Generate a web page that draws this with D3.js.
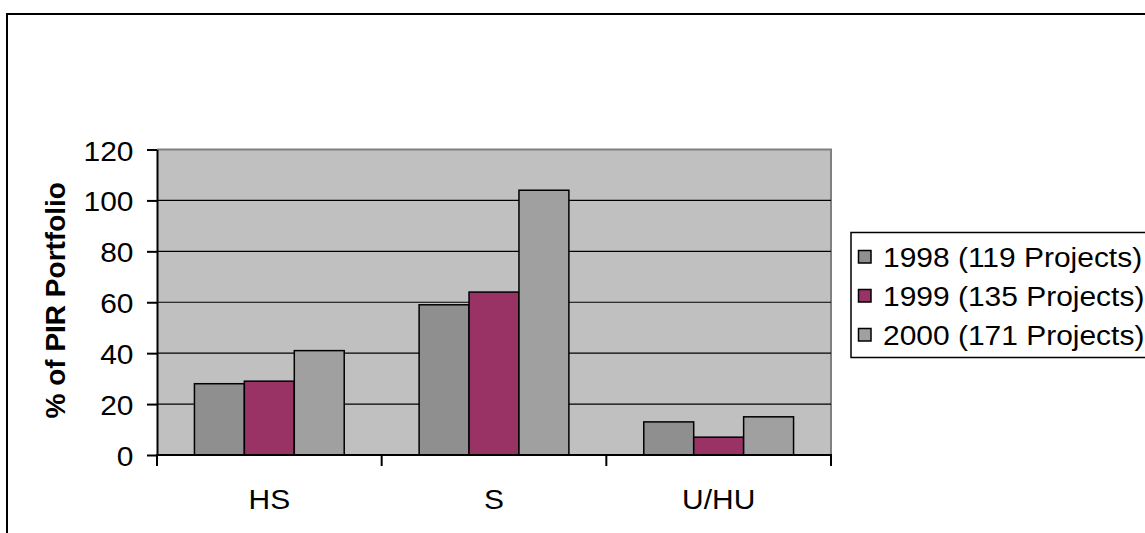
<!DOCTYPE html>
<html>
<head>
<meta charset="utf-8">
<script src="https://cdn.jsdelivr.net/npm/d3@7"></script>
<style>
  html, body { margin: 0; padding: 0; background: #fff; overflow: hidden; }
  svg { display: block; }
  text { font-family: "Liberation Sans", Arial, sans-serif; fill: #000; }
</style>
</head>
<body>
<svg id="chart" width="1145" height="533"></svg>
<script>
// Project ratings by year, share of the PIR portfolio
const categories = ["HS", "S", "U/HU"];
const seriesNames = ["1998 (119 Projects)", "1999 (135 Projects)", "2000 (171 Projects)"];
const values1998 = [28, 59, 13];
const values1999 = [29, 64, 7];
const values2000 = [41, 104, 15];
const yTicks = [0, 20, 40, 60, 80, 100, 120];
const seriesColors = ["#8f8f8f", "#993366", "#a0a0a0"];

const seriesValues = [values1998, values1999, values2000];
const rows = categories.map((c, i) => ({
  category: c,
  bars: seriesNames.map((s, j) => ({ series: s, idx: j, value: seriesValues[j][i] }))
}));

const svg = d3.select("#chart");
const FONT = 28;      // label size
const STRETCH = 1.07; // horizontal glyph widening of the original rendering

// plot area
const plot = { left: 157, right: 831, top: 149.5, bottom: 455 };

const x = d3.scaleBand().domain(categories).range([plot.left, plot.right]).paddingInner(0).paddingOuter(0);
const xs = d3.scaleBand().domain(d3.range(seriesNames.length)).range([0, x.bandwidth()])
  .paddingInner(0).paddingOuter(0.75);
const y = d3.scaleLinear().domain([0, 120]).range([plot.bottom, plot.top]);

// chart frame (runs past the page edge on the right and bottom)
svg.append("rect")
  .attr("x", 7).attr("y", 14).attr("width", 1300).attr("height", 700)
  .attr("fill", "#fff").attr("stroke", "#000").attr("stroke-width", 2);

// plot background
svg.append("rect")
  .attr("x", plot.left).attr("y", plot.top)
  .attr("width", plot.right - plot.left).attr("height", plot.bottom - plot.top)
  .attr("fill", "#c0c0c0");

// grey top and right edges of the plot
svg.append("path")
  .attr("d", `M${plot.left},${y(120)}H${plot.right}V${plot.bottom}`)
  .attr("fill", "none").attr("stroke", "#808080").attr("stroke-width", 2);

// gridlines
svg.append("g").selectAll("line")
  .data(yTicks.filter(t => t > 0 && t < 120))
  .join("line")
  .attr("x1", plot.left).attr("x2", plot.right)
  .attr("y1", d => y(d)).attr("y2", d => y(d))
  .attr("stroke", "#000").attr("stroke-width", 1.2);

// bars
svg.append("g").selectAll("g")
  .data(rows)
  .join("g")
  .attr("transform", d => `translate(${x(d.category)},0)`)
  .selectAll("rect")
  .data(d => d.bars)
  .join("rect")
  .attr("x", d => xs(d.idx))
  .attr("width", xs.bandwidth())
  .attr("y", d => y(d.value))
  .attr("height", d => y(0) - y(d.value))
  .attr("fill", d => seriesColors[d.idx])
  .attr("stroke", "#000").attr("stroke-width", 1.5);

// y axis
const yAxis = svg.append("g")
  .attr("transform", `translate(${plot.left},0)`)
  .call(d3.axisLeft(y).tickValues(yTicks).tickSize(10).tickSizeOuter(0));
yAxis.select(".domain").attr("stroke", "#000").attr("stroke-width", 2);
yAxis.selectAll(".tick line").attr("stroke", "#000").attr("stroke-width", 2);
yAxis.selectAll(".tick text")
  .attr("x", null).attr("dy", null)
  .attr("transform", `translate(-23.5,10.5) scale(${STRETCH},1)`)
  .attr("text-anchor", "end")
  .style("font-size", FONT + "px")
  .style("font-family", "\"Liberation Sans\", Arial, sans-serif")
  .attr("fill", "#000");

// x axis: labels centred in each band
const xAxis = svg.append("g")
  .attr("transform", `translate(0,${plot.bottom})`)
  .call(d3.axisBottom(x).tickSize(0).tickSizeOuter(0));
xAxis.select(".domain").remove();
xAxis.selectAll(".tick text")
  .attr("y", null).attr("dy", null)
  .attr("transform", `translate(0,53.5) scale(${STRETCH},1)`)
  .attr("text-anchor", "middle")
  .style("font-size", FONT + "px")
  .style("font-family", "\"Liberation Sans\", Arial, sans-serif")
  .attr("fill", "#000");

// category boundary ticks and baseline
const boundaries = categories.map(c => x(c)).concat([x(categories[categories.length - 1]) + x.bandwidth()]);
svg.append("g").selectAll("line")
  .data(boundaries)
  .join("line")
  .attr("x1", d => d).attr("x2", d => d)
  .attr("y1", plot.bottom).attr("y2", plot.bottom + 11)
  .attr("stroke", "#000").attr("stroke-width", 2);
svg.append("line")
  .attr("x1", plot.left - 1).attr("x2", plot.right + 1)
  .attr("y1", plot.bottom).attr("y2", plot.bottom)
  .attr("stroke", "#000").attr("stroke-width", 2);

// y axis title
svg.append("text")
  .attr("transform", `translate(65,${(plot.top + plot.bottom) / 2 - 2}) rotate(-90)`)
  .attr("text-anchor", "middle")
  .style("font-size", FONT + "px")
  .style("font-weight", "bold")
  .text("% of PIR Portfolio");

// legend
const legend = svg.append("g");
legend.append("rect")
  .attr("x", 851).attr("y", 232.5).attr("width", 400).attr("height", 125)
  .attr("fill", "#fff").attr("stroke", "#000").attr("stroke-width", 1.5);
const items = legend.selectAll("g.item")
  .data(seriesNames)
  .join("g")
  .attr("class", "item")
  .attr("transform", (d, i) => `translate(0,${267 + i * 39})`);
items.append("rect")
  .attr("x", 858.5).attr("y", -16.5).attr("width", 12.5).attr("height", 12.5)
  .attr("fill", (d, i) => seriesColors[i])
  .attr("stroke", "#000").attr("stroke-width", 1.5);
items.append("text")
  .attr("transform", `translate(883,0) scale(${STRETCH},1)`)
  .style("font-size", FONT + "px")
  .text(d => d);
</script>
</body>
</html>
